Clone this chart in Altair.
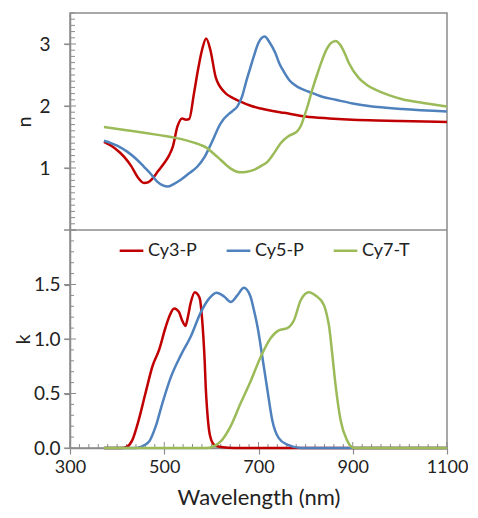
import altair as alt
import pandas as pd

series = ["Cy3-P", "Cy5-P", "Cy7-T"]
colors = ["#C00000", "#4F81BD", "#9BBB59"]

# ---- refractive index n ----
cy3_n_wl = [372, 395, 415, 430, 443, 457, 466, 475, 487, 500, 510, 518, 528, 538, 546, 553, 563, 572, 580, 589, 598, 609, 627, 645, 662, 685, 705, 730, 754, 800, 850, 934, 1000, 1100]
cy3_n = [1.42, 1.32, 1.18, 1.03, 0.86, 0.76, 0.77, 0.83, 0.95, 1.08, 1.20, 1.34, 1.67, 1.80, 1.78, 1.79, 2.20, 2.60, 2.90, 3.09, 2.90, 2.47, 2.23, 2.13, 2.07, 2.00, 1.96, 1.92, 1.89, 1.83, 1.80, 1.77, 1.76, 1.74]

cy5_n_wl = [372, 400, 422, 440, 457, 472, 485, 497, 507, 520, 535, 552, 570, 585, 595, 606, 616, 625, 634, 645, 655, 665, 673, 682, 690, 700, 713, 724, 736, 744, 754, 765, 785, 807, 835, 864, 900, 934, 1005, 1100]
cy5_n = [1.44, 1.36, 1.26, 1.15, 1.02, 0.90, 0.78, 0.72, 0.70, 0.74, 0.81, 0.91, 1.02, 1.17, 1.32, 1.50, 1.67, 1.78, 1.85, 1.92, 1.99, 2.15, 2.37, 2.60, 2.80, 3.02, 3.12, 3.02, 2.85, 2.69, 2.55, 2.42, 2.30, 2.23, 2.15, 2.10, 2.04, 2.00, 1.95, 1.91]

cy7_n_wl = [372, 420, 457, 490, 521, 545, 563, 578, 591, 605, 620, 641, 662, 676, 690, 705, 719, 733, 747, 765, 782, 790, 797, 805, 814, 825, 835, 845, 853, 864, 874, 883, 892, 913, 930, 949, 975, 1005, 1050, 1100]
cy7_n = [1.66, 1.61, 1.57, 1.53, 1.49, 1.45, 1.41, 1.37, 1.32, 1.23, 1.13, 0.99, 0.93, 0.94, 0.97, 1.03, 1.10, 1.24, 1.40, 1.52, 1.59, 1.68, 1.83, 2.02, 2.26, 2.52, 2.74, 2.92, 3.01, 3.05, 2.98, 2.85, 2.69, 2.45, 2.34, 2.26, 2.18, 2.11, 2.05, 1.99]

# ---- extinction coefficient k ----
cy3_k_wl = [372, 410, 420, 432, 446, 460, 475, 489, 503, 512, 521, 531, 538, 545, 550, 556, 565, 571, 576, 580, 583, 586, 588, 591, 595, 600, 606, 620, 650, 1100]
cy3_k = [0, 0, 0.01, 0.07, 0.26, 0.50, 0.75, 0.90, 1.11, 1.22, 1.28, 1.25, 1.17, 1.12, 1.20, 1.33, 1.43, 1.41, 1.36, 1.20, 1.02, 0.78, 0.56, 0.35, 0.165, 0.07, 0.03, 0.01, 0, 0]

cy5_k_wl = [372, 440, 450, 468, 482, 496, 514, 535, 556, 577, 595, 611, 627, 641, 655, 669, 683, 690, 698, 708, 719, 729, 743, 761, 790, 1100]
cy5_k = [0, 0, 0.01, 0.06, 0.20, 0.41, 0.65, 0.85, 1.02, 1.24, 1.37, 1.425, 1.39, 1.34, 1.40, 1.47, 1.39, 1.27, 1.11, 0.84, 0.53, 0.26, 0.09, 0.03, 0, 0]

cy7_k_wl = [372, 590, 602, 620, 641, 662, 684, 705, 726, 743, 761, 775, 790, 807, 821, 839, 845, 850, 857, 864, 874, 888, 903, 1100]
cy7_k = [0, 0, 0.01, 0.06, 0.20, 0.41, 0.62, 0.84, 1.01, 1.08, 1.10, 1.17, 1.36, 1.43, 1.40, 1.31, 1.22, 1.11, 0.84, 0.56, 0.26, 0.07, 0, 0]

x_major = [300, 500, 700, 900, 1100]
x_minor = [v for v in range(300, 1101, 20) if v not in x_major]
n_labeled = [1, 2, 3]
n_major = [0, 1, 2, 3]
n_minor = [round(i * 0.1, 1) for i in range(0, 36) if i % 10 != 0]
k_labeled = [0, 0.5, 1.0, 1.5]
k_major = [0, 0.5, 1.0, 1.5, 2.0]
k_minor = [round(i * 0.1, 1) for i in range(0, 21) if i % 5 != 0]


def frame(wls, vals, name):
    return pd.DataFrame({"wl": wls, "v": vals, "series": name})


n_df = pd.concat([frame(cy3_n_wl, cy3_n, series[0]),
                  frame(cy5_n_wl, cy5_n, series[1]),
                  frame(cy7_n_wl, cy7_n, series[2])])
k_df = pd.concat([frame(cy3_k_wl, cy3_k, series[0]),
                  frame(cy5_k_wl, cy5_k, series[1]),
                  frame(cy7_k_wl, cy7_k, series[2])])

GRAY = "#8C8C8C"
FONT = "Lato"
W, H1, H2 = 377, 217, 218
H = H1 + H2

x_scale = alt.Scale(domain=[300, 1100], nice=False, zero=False)
color_scale = alt.Scale(domain=series, range=colors)
x_axis = alt.Axis(values=x_major, format="d", title="Wavelength (nm)", tickSize=6,
                  labelPadding=4, titlePadding=11, titleFontSize=22, labelFlush=False,
                  labelFontSize=18)
legend = alt.Legend(title=None, orient="none", direction="horizontal",
                    legendX=48, legendY=H1 + 7, symbolType="stroke",
                    symbolStrokeWidth=2.5, symbolSize=560,
                    labelFontSize=18, labelFont=FONT, labelColor="#222222",
                    columnPadding=24, labelOffset=3)


def rules_y(vals, x0, x1, width=1):
    return alt.Chart(pd.DataFrame({"t": vals})).mark_rule(color=GRAY, strokeWidth=width).encode(
        y=alt.Y("t:Q"), x=alt.value(x0), x2=alt.value(x1))


def rules_x(vals, y0, y1):
    return alt.Chart(pd.DataFrame({"t": vals})).mark_rule(color=GRAY, strokeWidth=1).encode(
        x=alt.X("t:Q", scale=x_scale, axis=x_axis), y=alt.value(y0), y2=alt.value(y1))


# ---------- upper region (n) ----------
n_lines = alt.Chart(n_df).mark_line(strokeWidth=2.5, interpolate="monotone").encode(
    x=alt.X("wl:Q", scale=x_scale, axis=x_axis),
    y=alt.Y("v:Q", scale=alt.Scale(domain=[0, 3.5], nice=False, range=[H1, 0]),
            axis=alt.Axis(values=n_labeled, format="d", orient="left",
                          title="n", titleX=-46, titleY=H1 / 2, titleBaseline="middle",
                          labelPadding=14, tickSize=6)),
    color=alt.Color("series:N", scale=color_scale, legend=legend),
    detail="series:N",
)
n_group = alt.layer(rules_y(n_minor, 0, 5), rules_y(n_major, -6, 6), n_lines)

# ---------- lower region (k) ----------
k_lines = alt.Chart(k_df).mark_line(strokeWidth=2.5, interpolate="monotone").encode(
    x=alt.X("wl:Q", scale=x_scale, axis=x_axis),
    y=alt.Y("v:Q", scale=alt.Scale(domain=[0, 2], nice=False, range=[H, H1]),
            axis=alt.Axis(values=k_labeled, format=".1f", orient="left",
                          title="k", titleX=-47, titleY=H1 + H2 / 2, titleBaseline="middle",
                          labelPadding=4, tickSize=6)),
    color=alt.Color("series:N", scale=color_scale, legend=legend),
    detail="series:N",
)
k_group = alt.layer(
    rules_x(x_minor, H, H - 4), rules_x(x_major, H, H - 6),
    rules_y(k_minor, 0, 4), rules_y(k_major, -6, 6), rules_y([2.0], 0, W, 1.5), k_lines
)

chart = alt.layer(n_group, k_group).resolve_scale(y="independent").resolve_axis(
    y="independent"
).properties(
    width=W, height=H,
    padding={"left": 5, "top": 4, "right": 0, "bottom": 5},
).configure_view(
    stroke=GRAY, strokeWidth=1.5
).configure_axis(
    grid=False, domainColor=GRAY, domainWidth=1.5, tickColor=GRAY, tickWidth=1.2,
    labelFont=FONT, labelFontSize=19, labelColor="#222222",
    titleFont=FONT, titleFontSize=20, titleFontWeight="normal", titleColor="#222222",
)

chart.save("out.html", embed_options={"renderer": "svg", "actions": False})
